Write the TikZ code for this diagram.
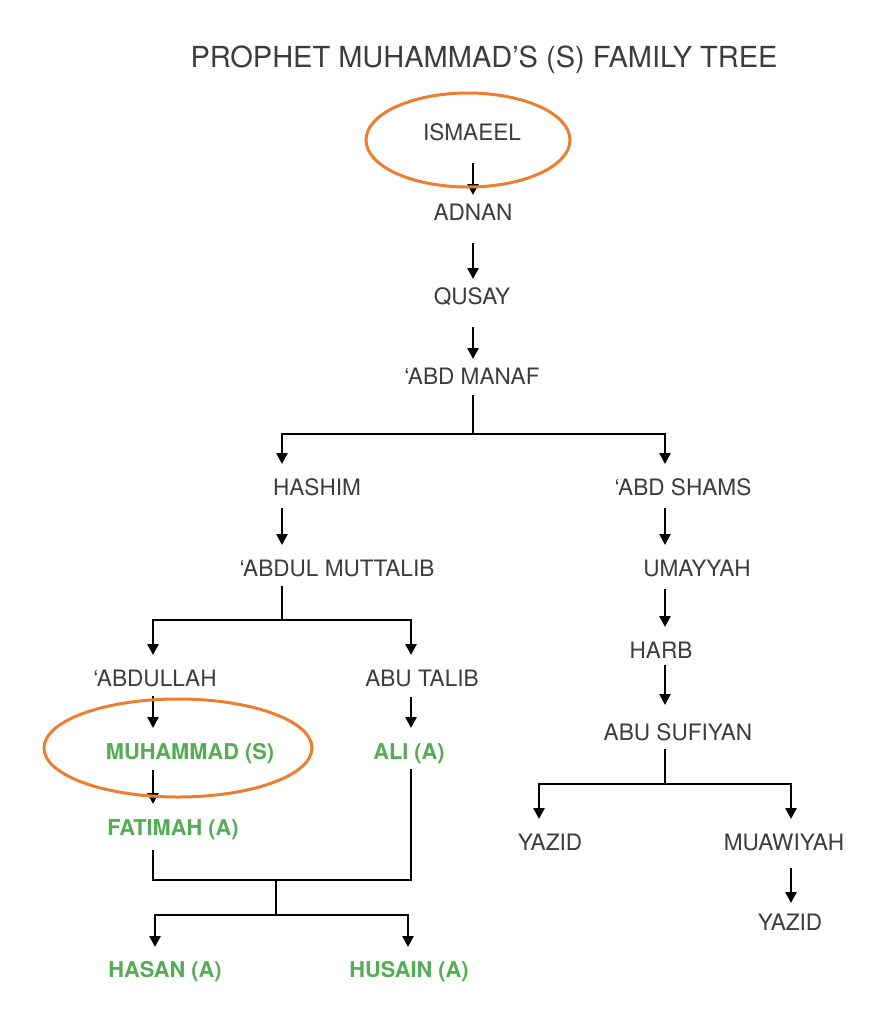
\documentclass[tikz,border=0pt]{standalone}
\usepackage{fontspec}
\setmainfont{TeX Gyre Heros}
\usetikzlibrary{arrows.meta}
\definecolor{nameGray}{RGB}{60,60,60}
\definecolor{saintGreen}{RGB}{84,172,84}
\definecolor{ringOrange}{RGB}{237,125,49}

\begin{document}
\begin{tikzpicture}[x=0.5pt,y=-0.5pt,
    person/.style={inner sep=0pt, text height=7.6pt, text depth=0pt, text=nameGray, font=\fontsize{11.3}{13}\selectfont},
    saint/.style={person, text=saintGreen, font=\fontsize{10.9}{13}\selectfont\bfseries},
    tree/.style={line width=1.25pt},
    arr/.style={tree, -{Triangle[length=5.5pt,width=5.5pt]}, shorten <=6pt, shorten >=8pt},
    chain/.style={arr, shorten <=11pt, shorten >=5pt},
    stem/.style={tree, shorten <=4.5pt},
    branch/.style={tree, -{Triangle[length=5.5pt,width=5.5pt]}, shorten >=8pt},
    ring/.style={draw=ringOrange, line width=1.5pt}]

    \useasboundingbox (0,0) rectangle (895,1024);

    %%% title %%%
    \node[text=nameGray, font=\fontsize{14.5}{17}\selectfont] (title) at (484,60) {PROPHET MUHAMMAD’S (S) FAMILY TREE};

    %%% names %%%
    \node[person] (ismaeel) at (472,133) {ISMAEEL};
    \node[person] (adnan) at (473,213) {ADNAN};
    \node[person] (qusay) at (472,297) {QUSAY};
    \node[person] (abdManaf) at (472,377) {‘ABD MANAF};
    % left branch
    \node[person] (hashim) at (317,488) {HASHIM};
    \node[person] (muttalib) at (337,569) {‘ABDUL MUTTALIB};
    \node[person] (abdullah) at (155,679) {‘ABDULLAH};
    \node[person] (abuTalib) at (422,679) {ABU TALIB};
    \node[saint] (muhammad) at (190,752) {MUHAMMAD (S)};
    \node[saint] (ali) at (409,752) {ALI (A)};
    \node[saint] (fatimah) at (173,828) {FATIMAH (A)};
    \node[saint] (hasan) at (165,970) {HASAN (A)};
    \node[saint] (husain) at (409,970) {HUSAIN (A)};
    % right branch
    \node[person] (abdShams) at (683,488) {‘ABD SHAMS};
    \node[person] (umayyah) at (697,569) {UMAYYAH};
    \node[person] (harb) at (661,651) {HARB};
    \node[person] (abuSufiyan) at (678,733) {ABU SUFIYAN};
    \node[person] (yazidA) at (550,843) {YAZID};
    \node[person] (muawiyah) at (784,843) {MUAWIYAH};
    \node[person] (yazidB) at (790,923) {YAZID};

    %%% columns and joins %%%
    \coordinate (mainCol) at (473,0);
    \coordinate (hashimCol) at (282,0);
    \coordinate (shamsCol) at (665,0);
    \coordinate (abdullahCol) at (153,0);
    \coordinate (talibCol) at (411,0);
    \coordinate (yazidCol) at (539,0);
    \coordinate (muawiyahCol) at (791,0);
    \coordinate (hasanCol) at (155,0);
    \coordinate (husainCol) at (408,0);

    \coordinate (manafJoin) at (473,434);
    \coordinate (muttalibJoin) at (282,620);
    \coordinate (sufiyanJoin) at (665,784);
    \coordinate (parentsJoin) at (276,880);
    \coordinate (childrenJoin) at (276,915);

    %%% connectors %%%
    \draw[chain] (ismaeel.south -| mainCol) -- (adnan.north -| mainCol);
    \draw[chain] (adnan.south -| mainCol) -- (qusay.north -| mainCol);
    \draw[chain] (qusay.south -| mainCol) -- (abdManaf.north -| mainCol);

    \draw[stem, shorten <=5pt] (abdManaf.south -| mainCol) -- (manafJoin);
    \draw[branch] (manafJoin) -| (hashim.north -| hashimCol);
    \draw[branch] (manafJoin) -| (abdShams.north -| shamsCol);

    % hashim side
    \draw[arr] (hashim.south -| hashimCol) -- (muttalib.north -| hashimCol);
    \draw[stem] (muttalib.south -| hashimCol) -- (muttalibJoin);
    \draw[branch] (muttalibJoin) -| (abdullah.north -| abdullahCol);
    \draw[branch] (muttalibJoin) -| (abuTalib.north -| talibCol);
    \draw[arr, shorten <=4.5pt] (abdullah.south -| abdullahCol) -- (muhammad.north -| abdullahCol);
    \draw[arr, shorten <=5pt] (abuTalib.south -| talibCol) -- (ali.north -| talibCol);
    \draw[arr, shorten <=5pt] (muhammad.south -| abdullahCol) -- (fatimah.north -| abdullahCol);

    % fatimah and ali
    \draw[stem, shorten <=7pt] (fatimah.south -| abdullahCol) |- (parentsJoin);
    \draw[stem] (ali.south -| talibCol) |- (parentsJoin);
    \draw[tree] (parentsJoin) -- (childrenJoin);
    \draw[branch, shorten >=7.5pt] (childrenJoin) -| (hasan.north -| hasanCol);
    \draw[branch, shorten >=7.5pt] (childrenJoin) -| (husain.north -| husainCol);

    % abd shams side
    \draw[arr] (abdShams.south -| shamsCol) -- (umayyah.north -| shamsCol);
    \draw[arr] (umayyah.south -| shamsCol) -- (harb.north -| shamsCol);
    \draw[arr, shorten <=3pt, shorten >=10pt] (harb.south -| shamsCol) -- (abuSufiyan.north -| shamsCol);
    \draw[stem, shorten <=4pt] (abuSufiyan.south -| shamsCol) -- (sufiyanJoin);
    \draw[branch] (sufiyanJoin) -| (yazidA.north -| yazidCol);
    \draw[branch] (sufiyanJoin) -| (muawiyah.north -| muawiyahCol);
    \draw[arr, shorten <=8.5pt, shorten >=6pt] (muawiyah.south -| muawiyahCol) -- (yazidB.north -| muawiyahCol);

    %%% highlight rings %%%
    \draw[ring] ([xshift=-2pt,yshift=-3.5pt]ismaeel.center) ellipse [x radius=51pt, y radius=23.5pt];
    \draw[ring] ([xshift=-6pt,yshift=2pt]muhammad.center) ellipse [x radius=67pt, y radius=24.5pt];
\end{tikzpicture}
\end{document}
